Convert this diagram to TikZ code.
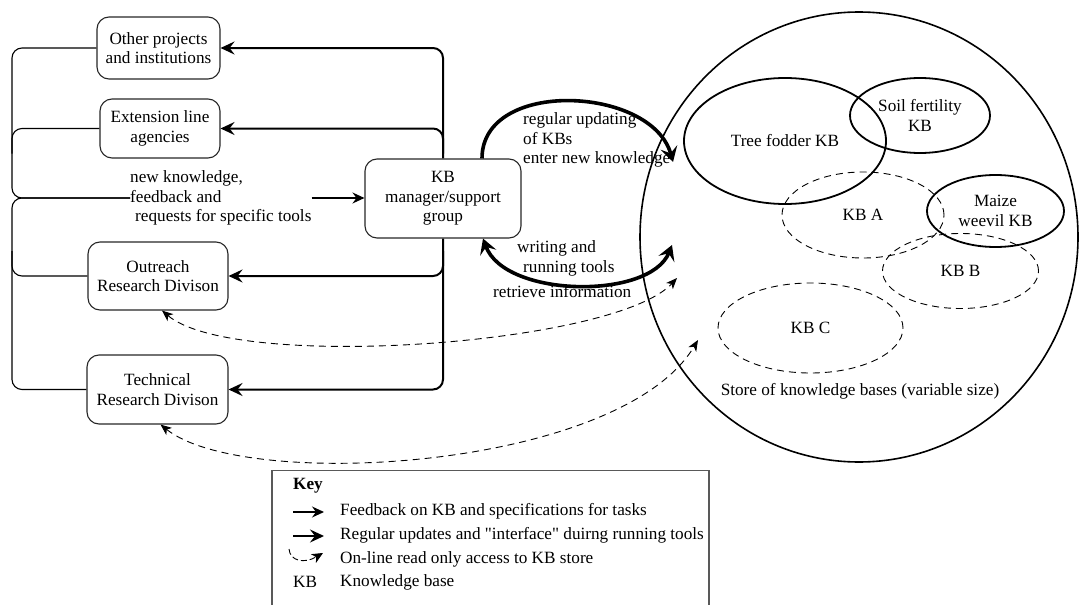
\documentclass[tikz,border=0pt]{standalone}
\usepackage{fontspec}
\setmainfont{Liberation Serif}
\usetikzlibrary{arrows.meta,shapes.geometric}
\newcommand\myfs{\fontsize{17.2}{19.5}\selectfont}
\tikzset{arctip/.tip={Stealth[length=15pt,width=17pt,inset=6pt]}}
\begin{document}
\begin{tikzpicture}[x=1pt,y=-1pt,
  box/.style={draw=black!85, line width=1.1pt, rounded corners=12pt, align=center, inner sep=0pt, font=\myfs},
  thinln/.style={line width=1.1pt},
  thickln/.style={line width=2pt},
  arcln/.style={line width=3.6pt},
  dashln/.style={line width=0.9pt, dash pattern=on 7pt off 5pt},
  thinhead/.style={-{Stealth[length=12pt,width=11pt,inset=4pt]}},
  thickhead/.style={-{Stealth[length=14pt,width=13pt,inset=5pt]}},
  dashhead/.style={{Stealth[length=11pt,width=9pt,inset=3pt]}-{Stealth[length=11pt,width=9pt,inset=3pt]}},
  kbsolid/.style={ellipse, draw, line width=1.8pt, inner sep=0pt, align=center, font=\myfs},
  kbdash/.style={ellipse, draw, line width=0.9pt, dash pattern=on 7pt off 5pt, inner sep=0pt, align=center, font=\myfs},
  lbl/.style={align=left, inner sep=0pt, font=\myfs, anchor=west}
]
\useasboundingbox (0,0) rectangle (1080,605);

% boxes
\node[box, minimum width=123pt, minimum height=62pt] (other) at (158.5,48) {Other projects\\and institutions};
\node[box, minimum width=120pt, minimum height=59pt] (ext) at (160,128.5) {Extension line\\agencies};
\node[box, minimum width=140pt, minimum height=68pt] (out) at (158,276) {Outreach\\Research Divison};
\node[box, minimum width=141pt, minimum height=69pt] (tech) at (157.5,389.5) {Technical\\Research Divison};
\node[box, minimum width=156pt, minimum height=79pt] (kb) at (443,198.5) {KB\\manager/support\\group};

% feedback text
\node[lbl] (nk) at (130,198) {new knowledge,\\feedback and\\\hspace*{5pt}requests for specific tools};
\path (nk.west) ++(-118,0) coordinate (lx);

% left thin lines
\draw[thinln, rounded corners=10pt] (other.west) -- (other.west -| lx) -- (lx) -- (nk.west);
\draw[thinln, rounded corners=10pt] (ext.west) -- (ext.west -| lx) -- ++(0,25);
\draw[thinln, rounded corners=10pt] (tech.west) -- (tech.west -| lx) -- (lx) -- (nk.west);
\draw[thinln, rounded corners=10pt] (out.west) -- (out.west -| lx) -- ++(0,-25);
\draw[thinln, thinhead] (nk.east) -- (nk.east -| kb.west);

% right thick lines
\draw[thickln, rounded corners=10pt, thickhead] (kb.north) -- (kb.north |- other.east) -- (other.east);
\draw[thickln, rounded corners=10pt, thickhead] (kb.north |- ext.east) ++(0,25) -- ++(0,-25) -- (ext.east);
\draw[thickln, rounded corners=10pt, thickhead] (kb.south |- out.east) ++(0,-25) -- ++(0,25) -- (out.east);
\draw[thickln, rounded corners=10pt, thickhead] (kb.south) -- (kb.south |- tech.east) -- (tech.east);

% store
\node[ellipse, draw, line width=1.6pt, minimum width=438pt, minimum height=450pt, inner sep=0pt] (store) at (859,237) {};
\node[kbsolid, minimum width=202pt, minimum height=126pt] (tree) at (785,141) {Tree fodder KB};
\node[kbsolid, minimum width=140pt, minimum height=75pt] (soil) at (920,115.5) {Soil fertility\\KB};
\node[kbsolid, minimum width=137pt, minimum height=72pt] (maize) at (995.5,211) {Maize\\weevil KB};
\node[kbdash, minimum width=162pt, minimum height=86pt] (kba) at (863,215) {KB A};
\node[kbdash, minimum width=156pt, minimum height=75pt] (kbb) at (960.5,271) {KB B};
\node[kbdash, minimum width=185pt, minimum height=90pt] (kbc) at (810.5,328) {KB C};
\node[font=\myfs, inner sep=0pt] (storelbl) at (860,391) {Store of knowledge bases (variable size)};

% thick arcs
\coordinate (up1) at (673,162);
\coordinate (lo1) at (672,245);
\draw[arcln, -arctip] ([xshift=39pt]kb.north) .. controls (482,78) and (652,86) .. (up1);
\draw[arcln, arctip-arctip] ([xshift=40pt]kb.south) .. controls (505,298) and (650,300) .. (lo1);
\node[lbl] (upd) at (523,140) {regular updating\\of KBs\\enter new knowledge};
\node[lbl] (wrt) at (517,258.5) {writing and\\\hspace*{6pt}running tools};
\node[lbl] (ret) at (493,292) {retrieve information};

% dashed access arrows
\coordinate (d1) at (677,278);
\coordinate (d2) at (698,340);
\draw[dashln, dashhead] ([xshift=4pt]out.south) .. controls (235,372) and (615,345) .. (d1);
\draw[dashln, dashhead] ([xshift=3pt]tech.south) .. controls (245,492) and (620,470) .. (d2);

% key
\draw[draw=black!65, line width=1.2pt] (272,606) -- (272,470.5) -- (709,470.5) -- (709,606);
\node[lbl, font=\myfs\bfseries] (keyt) at (293,486) {Key};
\coordinate (k1a) at (293,512); \coordinate (k1b) at (324,512);
\coordinate (k2a) at (293,536); \coordinate (k2b) at (324,536);
\coordinate (k3a) at (289,549); \coordinate (k3b) at (323,553);
\draw[thinln, thinhead] (k1a) -- (k1b);
\draw[thickln, thickhead] (k2a) -- (k2b);
\draw[line width=0.9pt, dash pattern=on 6pt off 3pt, -{Stealth[length=11pt,width=10pt,inset=3pt]}] (k3a) .. controls (290,561) and (304,564) .. (k3b);
\node[lbl] (t1) at (340,511) {Feedback on KB and specifications for tasks};
\node[lbl] (t2) at (340,535) {Regular updates and \textquotedbl interface\textquotedbl{} duirng running tools};
\node[lbl] (t3) at (340,559) {On-line read only access to KB store};
\node[lbl] (kbab) at (293,582) {KB};
\node[lbl] (t4) at (340,582) {Knowledge base};
\end{tikzpicture}
\end{document}
